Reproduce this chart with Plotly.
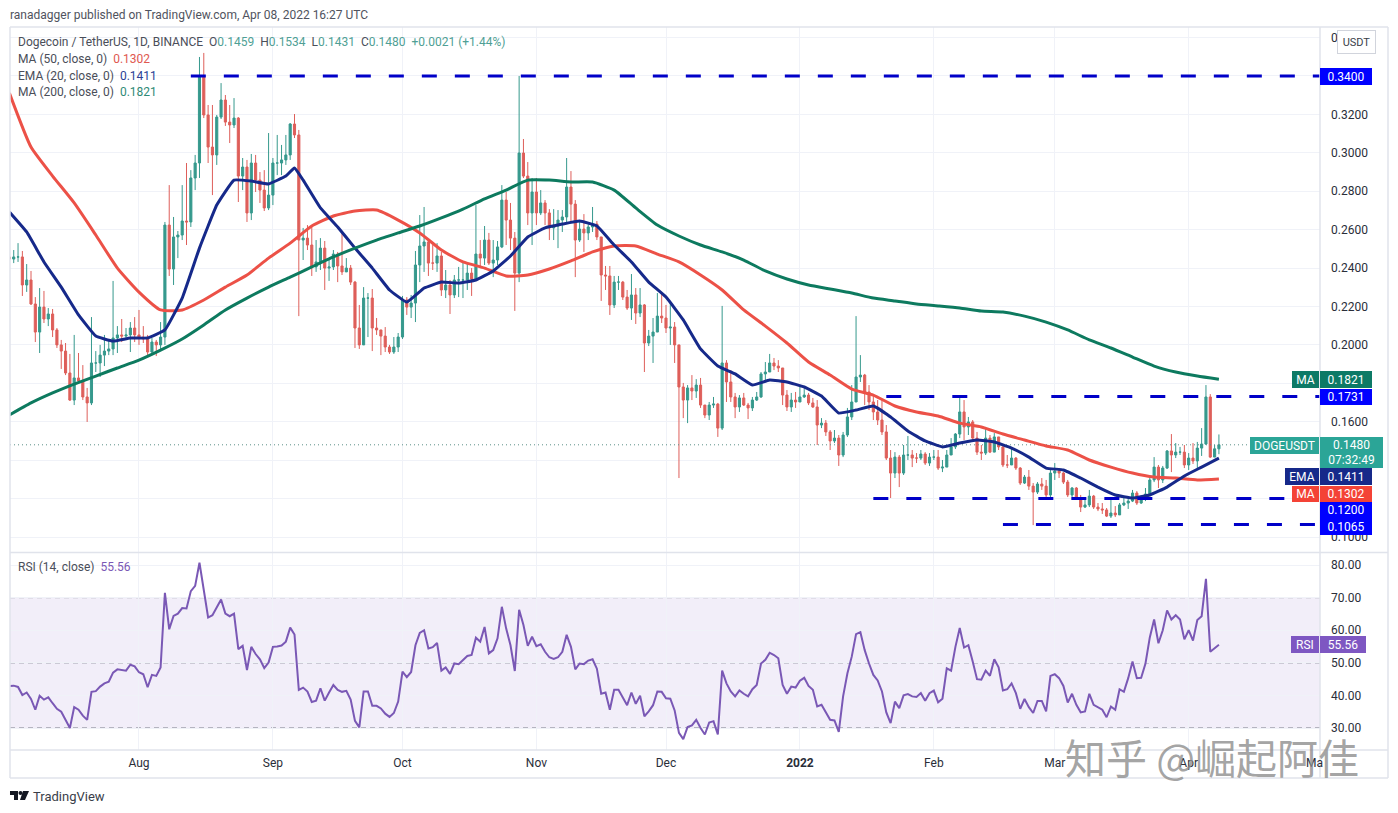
import pandas as pd
import plotly.graph_objects as go

W, H = 1398, 813
FONT = "Roboto"

closes = [
 .2447,.2458,.2458,.2312,.2338,.2213,.2067,.2197,.2135,.2161,.2078,.2000,.1968,.1854,.1713,.1828,.1812,.1729,.1698,.1906,.1906,.1947,.1968,.1979,.2036,.2052,.2046,.2052,.2088,.2052,
 .2041,.2031,.1963,.2015,.2000,.2041,.2624,.2395,.2562,.2572,.2645,.2640,.2869,.2947,.3400,.3197,.3030,.2989,.3186,.3275,.3160,.3145,.3181,.2879,.2926,.2687,.2947,.2858,.2806,.2713,.2780,
 .2947,.2947,.2963,.2989,.3150,.3093,.2546,.2556,.2520,.2406,.2432,.2504,.2400,.2406,.2473,.2411,.2380,.2400,.2327,.2088,.2000,.2244,.2244,.2088,.2078,.2046,.1989,.1963,.1989,.2041,
 .2234,.2197,.2218,.2416,.2515,.2536,.2426,.2426,.2463,.2286,.2312,.2260,.2338,.2338,.2338,.2374,.2343,.2473,.2452,.2546,.2426,.2442,.2510,.2754,.2650,.2556,.2374,.2999,.2879,.2687,.2796,
 .2687,.2739,.2687,.2609,.2619,.2650,.2666,.2822,.2733,.2546,.2603,.2583,.2614,.2629,.2562,.2364,.2359,.2208,.2327,.2327,.2249,.2192,.2260,.2166,.2208,.2010,.2046,.2067,.2150,.2140,
 .2088,.2093,.2000,.1781,.1713,.1776,.1760,.1791,.1687,.1635,.1687,.1692,.1567,.1906,.1807,.1729,.1677,.1724,.1687,.1672,.1713,.1729,.1849,.1859,.1906,.1890,.1880,.1739,.1677,.1713,.1703,
 .1729,.1739,.1698,.1677,.1583,.1593,.1547,.1500,.1515,.1427,.1531,.1625,.1703,.1833,.1843,.1755,.1703,.1651,.1609,.1547,.1411,.1333,.1416,.1333,.1427,.1427,.1411,.1411,.1432,.1385,.1416,
 .1416,.1359,.1364,.1427,.1469,.1536,.1651,.1573,.1599,.1515,.1442,.1437,.1515,.1442,.1521,.1469,.1375,.1375,.1411,.1359,.1281,.1312,.1265,.1234,.1276,.1265,.1219,.1333,
 .1344,.1333,.1286,.1219,.1255,.1198,.1156,.1167,.1213,.1156,.1146,.1141,.1109,.1125,.1115,.1167,.1177,.1187,.1229,.1177,.1198,.1224,.1297,.1364,.1297,.1359,.1448,.1427,.1442,.1442,.1375,
 .1411,.1396,.1463,.1484,.1729,.1416,.1459,.1480,
]
highs = [
 .2458,.2494,.2530,.2489,.2421,.2385,.2249,.2296,.2281,.2192,.2187,.2088,.2026,.2010,.1953,.2052,.1958,.1895,.1776,.2145,.1968,.2000,.2052,.2026,.2333,.2098,.2135,.2088,.2119,.2145,
 .2182,.2098,.2052,.2036,.2026,.2119,.2640,.2832,.2666,.2593,.2832,.2947,.2910,.2989,.3499,.3520,.3249,.3249,.3197,.3363,.3301,.3249,.3285,.3186,.2973,.2963,.2994,.2989,.2900,.2910,.3103,
 .2973,.3093,.3041,.3093,.3155,.3202,.3119,.2609,.2624,.2614,.2546,.2556,.2541,.2452,.2494,.2484,.2588,.2452,.2416,.2333,.2208,.2301,.2270,.2291,.2140,.2078,.2093,.2000,.2041,.2062,
 .2255,.2249,.2260,.2489,.2676,.2718,.2546,.2520,.2530,.2484,.2390,.2338,.2364,.2406,.2432,.2426,.2400,.2728,.2546,.2619,.2583,.2546,.2541,.2832,.2796,.2739,.2588,.3400,.3072,.2952,.2869,
 .2869,.2806,.2754,.2707,.2707,.2702,.2702,.2973,.2905,.2754,.2640,.2681,.2629,.2718,.2645,.2562,.2411,.2411,.2359,.2359,.2333,.2286,.2369,.2296,.2296,.2213,.2078,.2140,.2270,.2270,
 .2208,.2223,.2119,.2000,.1802,.1791,.1843,.1822,.1828,.1687,.1703,.1729,.1698,.2203,.1921,.1869,.1750,.1739,.1750,.1698,.1729,.1755,.1859,.1911,.1953,.1932,.1921,.1880,.1765,.1750,.1755,
 .1791,.1770,.1750,.1724,.1713,.1619,.1609,.1557,.1557,.1531,.1547,.1672,.1791,.2150,.1947,.1849,.1791,.1739,.1713,.1713,.1583,.1453,.1442,.1427,.1479,.1526,.1453,.1437,.1453,.1442,.1437,
 .1453,.1453,.1401,.1453,.1515,.1541,.1729,.1713,.1625,.1609,.1547,.1479,.1573,.1531,.1541,.1521,.1479,.1427,.1469,.1416,.1364,.1323,.1349,.1281,.1286,.1307,.1297,.1349,
 .1385,.1349,.1338,.1297,.1260,.1260,.1219,.1193,.1245,.1219,.1177,.1177,.1151,.1208,.1161,.1177,.1203,.1203,.1245,.1239,.1219,.1255,.1307,.1416,.1375,.1370,.1453,.1536,.1489,.1469,.1479,
 .1437,.1489,.1495,.1567,.1791,.1744,.1479,.1534,
]
lows = [
 .2432,.2426,.2432,.2255,.2276,.2208,.2015,.1958,.2114,.2098,.2041,.1984,.1875,.1843,.1708,.1687,.1807,.1713,.1599,.1687,.1859,.1833,.1890,.1947,.1947,.1958,.2015,.2026,.1963,.2015,
 .2000,.2010,.1937,.1947,.1942,.1973,.2000,.2359,.2312,.2452,.2546,.2520,.2614,.2806,.2869,.3181,.2947,.2780,.2937,.3176,.3140,.3051,.3129,.2744,.2806,.2640,.2650,.2796,.2739,.2697,.2702,
 .2728,.2884,.2884,.2937,.2963,.3077,.2150,.2442,.2494,.2359,.2380,.2390,.2286,.2333,.2390,.2327,.2364,.2390,.2312,.1984,.1979,.2000,.2041,.1968,.2052,.1947,.1963,.1953,.1953,.1963,
 .2031,.2156,.2140,.2119,.2327,.2380,.2359,.2390,.2380,.2255,.2244,.2161,.2244,.2249,.2244,.2286,.2255,.2364,.2400,.2416,.2416,.2353,.2416,.2504,.2520,.2494,.2177,.2327,.2869,.2624,.2520,
 .2624,.2676,.2624,.2546,.2546,.2504,.2588,.2640,.2640,.2353,.2536,.2484,.2546,.2588,.2546,.2229,.2286,.2156,.2192,.2286,.2234,.2182,.2130,.2109,.2145,.1859,.1994,.1906,.2067,.2114,
 .2062,.2000,.1906,.1307,.1619,.1593,.1713,.1724,.1672,.1619,.1609,.1672,.1521,.1557,.1703,.1703,.1619,.1651,.1682,.1614,.1656,.1708,.1724,.1817,.1859,.1869,.1859,.1687,.1656,.1651,.1672,
 .1703,.1724,.1687,.1672,.1479,.1567,.1526,.1453,.1489,.1370,.1416,.1521,.1609,.1703,.1807,.1687,.1661,.1609,.1583,.1531,.1401,.1203,.1307,.1260,.1323,.1401,.1364,.1385,.1401,.1375,.1370,
 .1401,.1349,.1338,.1364,.1442,.1458,.1515,.1505,.1531,.1505,.1427,.1401,.1427,.1437,.1458,.1453,.1364,.1359,.1390,.1349,.1271,.1276,.1245,.1062,.1224,.1245,.1203,.1208,
 .1297,.1307,.1276,.1208,.1208,.1193,.1130,.1151,.1156,.1146,.1135,.1120,.1104,.1099,.1104,.1120,.1161,.1146,.1182,.1167,.1172,.1187,.1213,.1286,.1255,.1281,.1354,.1338,.1411,.1427,.1359,
 .1349,.1380,.1359,.1422,.1479,.1411,.1416,.1431,
]
first_open = .2458
ma50 = [.3311,.3030,.2879,.2739,.2572,.2400,.2275,.2182,.2182,.2234,.2301,.2364,.2452,.2530,.2619,.2671,.2697,.2702,.2650,.2583,.2494,.2432,.2400,.2359,.2364,.2395,.2437,.2484,.2515,.2515,.2473,.2432,.2364,.2286,.2182,.2098,.2010,.1911,.1843,.1770,.1739,.1682,.1651,.1630,.1593,.1573,.1536,.1505,.1474,.1453,.1401,.1364,.1333,.1312,.1307,.1297,.1302]
ema20 = [.2692,.2588,.2432,.2301,.2156,.2046,.2020,.2036,.2036,.2078,.2244,.2504,.2728,.2858,.2853,.2838,.2879,.2858,.2713,.2614,.2504,.2400,.2286,.2223,.2296,.2327,.2322,.2338,.2385,.2463,.2562,.2609,.2629,.2645,.2619,.2520,.2432,.2327,.2249,.2130,.1979,.1890,.1849,.1791,.1817,.1807,.1781,.1734,.1645,.1661,.1682,.1625,.1552,.1500,.1469,.1489,.1505,.1495,.1463,.1416,.1359,.1349,.1307,.1260,.1219,.1203,.1219,.1260,.1318,.1364,.1411]
ma200 = [.1635,.1698,.1750,.1796,.1838,.1880,.1921,.1973,.2031,.2104,.2182,.2244,.2301,.2353,.2406,.2458,.2504,.2546,.2583,.2619,.2661,.2707,.2760,.2806,.2858,.2858,.2848,.2848,.2806,.2713,.2624,.2567,.2520,.2484,.2442,.2385,.2343,.2312,.2291,.2270,.2244,.2229,.2213,.2203,.2192,.2176,.2171,.2150,.2119,.2078,.2026,.1984,.1937,.1890,.1859,.1838,.1821]
ema_peak_date, ema_peak = "2021-09-06", .2921
rsi = [
 42.9,43.0,42.6,40.1,40.9,38.9,35.6,39.9,38.7,39.4,37.6,35.9,35.0,32.5,30.0,36.4,35.6,33.8,32.5,41.1,41.3,42.7,43.7,44.2,47.0,48.0,47.8,47.6,49.4,48.9,47.1,46.5,42.5,46.3,46.0,48.6,
 71.5,60.3,64.4,65.1,66.8,66.7,72.0,73.6,80.7,72.2,63.9,64.6,67.2,69.4,65.1,64.3,65.1,54.2,55.2,47.8,54.9,52.7,51.1,48.4,50.1,54.9,55.0,55.3,56.5,60.8,58.7,41.7,42.4,41.2,38.0,38.4,42.2,38.4,
 40.9,43.2,41.7,41.1,41.4,38.7,32.2,30.2,41.2,41.2,36.8,36.8,36.0,34.4,33.4,34.6,38.1,47.3,45.6,47.2,55.4,59.2,60.0,54.4,54.8,56.1,47.6,48.6,46.6,49.8,49.6,50.7,52.1,52.4,57.7,56.5,61.0,52.9,
 53.9,57.5,67.2,60.5,55.4,47.5,66.3,61.6,55.2,58.0,55.1,55.7,53.4,51.7,51.2,51.7,53.4,58.6,54.9,48.0,49.8,49.6,50.7,51.1,48.2,40.5,40.9,35.6,41.7,41.7,39.2,37.0,40.9,37.4,39.9,33.6,35.1,37.0,
 41.2,41.1,39.1,39.0,35.4,28.5,26.6,30.3,30.8,32.5,30.0,28.0,31.7,32.1,28.0,47.6,43.7,41.2,39.7,41.5,40.5,39.7,41.9,43.2,49.8,50.9,53.1,52.4,51.4,43.2,40.5,42.7,42.4,44.5,45.4,42.9,41.7,36.6,
 37.1,34.6,32.5,32.3,28.8,39.7,46.8,51.9,58.8,59.4,53.9,49.8,46.3,44.6,41.2,34.8,31.5,38.1,36.1,40.0,40.4,39.7,39.5,40.7,38.4,40.7,41.5,37.9,39.0,48.3,47.6,54.9,60.7,54.7,55.4,50.4,45.0,44.8,
 47.6,46.0,51.1,48.6,41.5,41.9,43.7,40.7,35.9,38.9,36.4,34.6,38.3,38.3,35.1,46.0,46.5,45.3,42.9,37.8,40.5,37.1,34.8,35.1,40.5,37.1,36.3,35.6,33.3,36.6,35.6,41.9,41.1,45.3,50.4,45.3,45.4,49.8,
 57.8,63.3,56.0,60.0,66.1,63.3,64.6,63.3,57.2,60.0,56.8,63.1,64.3,75.8,53.4,54.6,55.56,
]
levels = [(.3400, "2021-08-13"), (.1731, "2022-01-21"), (.1200, "2022-01-18"), (.1065, "2022-02-17")]
last_price = .1480
month_ticks = ["2021-08-01","2021-09-01","2021-10-01","2021-11-01","2021-12-01","2022-01-01","2022-02-01","2022-03-01","2022-04-01"]
month_labels = ["Aug","Sep","Oct","Nov","Dec","<b>2022</b>","Feb","Mar","Apr"]

dates = pd.date_range("2021-07-02", periods=len(closes), freq="D")
opens = [first_open] + closes[:-1]
d5 = pd.date_range("2021-07-02", periods=len(ma50), freq="5D")
d4 = pd.date_range("2021-07-02", periods=len(ema20), freq="4D")
ema_series = pd.Series(ema20, index=d4)
ema_series.loc[pd.Timestamp(ema_peak_date)] = ema_peak
ema_series = ema_series.sort_index()
X0, X1 = "2021-07-02 03:20", "2022-05-01 09:36"


def px(x):
    return x / W


def py(y):
    return 1 - y / H


fig = go.Figure()
fig.add_trace(go.Scatter(x=[X0, X1], y=[last_price, last_price], mode="lines", hoverinfo="skip",
                         line=dict(color="#5a8f88", width=1, dash="1px,3px")))
fig.add_trace(go.Candlestick(x=dates, open=opens, high=highs, low=lows, close=closes, whiskerwidth=0,
                             increasing=dict(line=dict(color="#36998d", width=1), fillcolor="#36998d"),
                             decreasing=dict(line=dict(color="#de5f5a", width=1), fillcolor="#de5f5a")))
for vals, ds, col, smooth in [(ma50, d5, "#ec5147", 0.5), (list(ema_series.values), ema_series.index, "#16298a", 0.3), (ma200, d5, "#0d7a5f", 0.5)]:
    fig.add_trace(go.Scatter(x=ds, y=vals, mode="lines", line=dict(color=col, width=3, shape="spline", smoothing=smooth)))
for val, start in levels:
    fig.add_trace(go.Scatter(x=[start, X1], y=[val, val], mode="lines",
                             line=dict(color="#0000c8", width=3, dash="15px,18px")))
fig.add_trace(go.Scatter(x=dates, y=rsi, mode="lines", xaxis="x2", yaxis="y2",
                         line=dict(color="#7a58b5", width=2)))

grid = "#f0f2f8"
axis_x = dict(type="date", range=[X0, X1], domain=[px(10), px(1320)], showgrid=True, gridcolor=grid, gridwidth=1,
              tickvals=month_ticks, ticktext=month_labels, ticks="", zeroline=False, showline=False,
              fixedrange=True, rangeslider=dict(visible=False))
tfont = dict(family=FONT, size=12, color="#2a2e39")
fig.update_layout(
    width=W, height=H, margin=dict(l=0, r=0, t=0, b=0), paper_bgcolor="white", plot_bgcolor="white", showlegend=False,
    font=dict(family=FONT, size=12, color="#2a2e39"),
    xaxis=dict(axis_x, anchor="y", showticklabels=False),
    xaxis2=dict(axis_x, anchor="y2", showticklabels=True, tickfont=tfont, matches="x", ticklabelstandoff=4),
    yaxis=dict(domain=[py(552), py(27)], range=[.0922, .3655], side="right", anchor="x", tickformat=".4f",
               tick0=.1, dtick=.02, gridcolor=grid, zeroline=False, showline=False, ticks="",
               tickfont=tfont, ticklabelstandoff=10),
    yaxis2=dict(domain=[py(750), py(553)], range=[23.25, 83.7], side="right", anchor="x2", tickformat=".2f",
                tick0=30, dtick=10, gridcolor=grid, zeroline=False, showline=False, ticks="",
                tickfont=tfont, ticklabelstandoff=10),
)

shapes = [
    dict(type="rect", xref="x2", yref="y2", x0=X0, x1=X1, y0=30, y1=70, fillcolor="rgba(126,87,194,0.10)",
         line_width=0, layer="below"),
]
for v in (30, 50, 70):
    shapes.append(dict(type="line", xref="x2", yref="y2", x0=X0, x1=X1, y0=v, y1=v, layer="below",
                       line=dict(color="#787b86", width=1, dash="5px,4px")))
for (x0, y0, x1, y1) in [(10, 27, 1388, 27), (10, 778, 1388, 778), (10, 27, 10, 778), (1388, 27, 1388, 778),
                         (10, 552.5, 1388, 552.5), (10, 750, 1388, 750), (1320, 27, 1320, 778)]:
    shapes.append(dict(type="line", xref="paper", yref="paper", x0=px(x0), x1=px(x1), y0=py(y0), y1=py(y1),
                       line=dict(color="#e0e3eb", width=1.5)))


def poly(points):
    return "M" + " L".join(f"{px(a):.5f},{py(b):.5f}" for a, b in points) + " Z"


for pts in ([(10, 791), (18, 791), (18, 800), (14, 800), (14, 795), (10, 795)],
            [(23, 791), (29, 791), (25, 800), (20, 800)]):
    shapes.append(dict(type="path", xref="paper", yref="paper", path=poly(pts), fillcolor="#131722", line_width=0))
shapes.append(dict(type="circle", xref="paper", yref="paper", x0=px(18.5), x1=px(22.5), y0=py(795), y1=py(791),
                   fillcolor="#131722", line_width=0))
fig.update_layout(shapes=shapes)

ann = []


def text(x, y, s, size=12, color="#4a4e59", **kw):
    ann.append(dict(xref="paper", yref="paper", x=px(x - 2), y=py(y), text=s, showarrow=False, xanchor="left",
                    yanchor="middle", font=dict(family=kw.pop("family", FONT), size=size, color=color), **kw))


def badge(x0, x1, y0, y1, s, bg, color="white", align="center"):
    ann.append(dict(xref="paper", yref="paper", x=px(x0), y=py((y0 + y1) / 2), text=s, showarrow=False,
                    xanchor="left", yanchor="middle", width=x1 - x0, height=y1 - y0, bgcolor=bg, align=align,
                    valign="middle", borderpad=0, borderwidth=0, font=dict(family=FONT, size=12, color=color)))


TEAL = "#4f9f95"
text(10, 15, "ranadagger published on TradingView.com, Apr 08, 2022 16:27 UTC", color="#50535e")
text(18, 42, f"Dogecoin / TetherUS, 1D, BINANCE&nbsp;&nbsp;O<span style='color:{TEAL}'>0.1459</span>&nbsp;&nbsp;"
             f"H<span style='color:{TEAL}'>0.1534</span>&nbsp;&nbsp;L<span style='color:{TEAL}'>0.1431</span>&nbsp;&nbsp;"
             f"C<span style='color:{TEAL}'>0.1480</span>&nbsp;&nbsp;<span style='color:{TEAL}'>+0.0021 (+1.44%)</span>")
text(18, 59, "MA (50, close, 0)&nbsp;&nbsp;<span style='color:#e0584f'>0.1302</span>")
text(18, 76, "EMA (20, close, 0)&nbsp;&nbsp;<span style='color:#2a3f95'>0.1411</span>")
text(18, 92, "MA (200, close, 0)&nbsp;&nbsp;<span style='color:#2f8a76'>0.1821</span>")
text(18, 567, "RSI (14, close)&nbsp;&nbsp;<span style='color:#7a58b5'>55.56</span>")
text(33, 796, "TradingView", size=13, color="#3a3e49")

ann.append(dict(xref="paper", yref="paper", x=px(1337), y=py(42), text="USDT", showarrow=False, xanchor="left",
                yanchor="middle", width=35, height=20, bgcolor="white", bordercolor="#d1d4dc", borderwidth=1,
                font=dict(family=FONT, size=11, color="#3a3e49")))
BLUE = "#0000ff"
badge(1320, 1372, 68, 85, "0.3400", BLUE)
badge(1292, 1319, 371, 388, "MA", "#0d7a66")
badge(1320, 1372, 371, 388, "0.1821", "#0d7a66")
badge(1320, 1372, 389, 405, "0.1731", BLUE)
badge(1250, 1319, 437, 454, "DOGEUSDT", "#2ba597")
badge(1320, 1383, 437, 468, "0.1480<br>07:32:49", "#2ba597")
badge(1285, 1319, 468, 485, "EMA", "#16298a")
badge(1320, 1372, 468, 485, "0.1411", "#16298a")
badge(1292, 1319, 486, 502, "MA", "#f44336")
badge(1320, 1372, 486, 502, "0.1302", "#f44336")
badge(1320, 1372, 502, 518, "0.1200", BLUE)
badge(1320, 1372, 518, 535, "0.1065", BLUE)
badge(1291, 1319, 636, 653, "RSI", "#7e57c2")
badge(1320, 1366, 636, 653, "55.56", "#7e57c2")
text(1306, 763, "Ma", color="#2a2e39")
text(1065, 756, "知乎 @崛起阿佳", size=41, color="rgba(140,140,140,0.8)", family="Noto Sans CJK SC")
fig.update_layout(annotations=ann)

fig.write_html("out.html", config=dict(displayModeBar=False), post_script="document.body.style.margin='0';")
